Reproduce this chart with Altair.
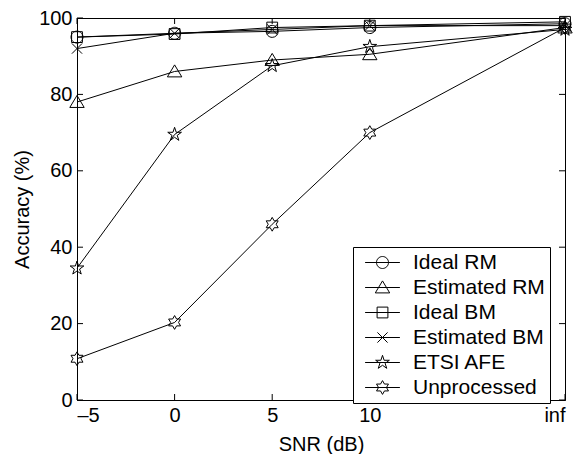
import math
import altair as alt
import pandas as pd

# ---- data ----
snr_pos = [-5, 0, 5, 10, 20]
snr_labels = ["–5", "0", "5", "10", "inf"]
series = ["Ideal RM", "Estimated RM", "Ideal BM", "Estimated BM", "ETSI AFE", "Unprocessed"]
ideal_rm = [95.0, 96.0, 96.5, 97.5, 98.5]
estimated_rm = [78.0, 86.0, 89.0, 90.5, 97.5]
ideal_bm = [95.0, 95.8, 97.5, 98.0, 99.0]
estimated_bm = [92.0, 96.0, 97.0, 98.0, 98.0]
etsi_afe = [34.5, 69.5, 87.5, 92.5, 97.0]
unprocessed = [10.8, 20.3, 46.0, 70.0, 97.5]
y_ticks = [0, 20, 40, 60, 80, 100]

all_vals = [ideal_rm, estimated_rm, ideal_bm, estimated_bm, etsi_afe, unprocessed]
rows = []
for name, vals in zip(series, all_vals):
    for p, lab, v in zip(snr_pos, snr_labels, vals):
        rows.append({"series": name, "snr": p, "label": lab, "acc": v})
df = pd.DataFrame(rows)

# ---- marker shapes (unit paths) ----
def star(n, outer, inner):
    pts = []
    for k in range(2 * n):
        r = outer if k % 2 == 0 else inner
        a = math.pi * k / n - math.pi / 2
        pts.append(f"{r * math.cos(a):.3f},{r * math.sin(a):.3f}")
    return "M" + "L".join(pts) + "Z"

circle = "M1,0A1,1,0,1,1,-1,0A1,1,0,1,1,1,0Z"
triangle = "M0,-1.1L1.2,0.9L-1.2,0.9Z"
square = "M-0.9,-0.9L0.9,-0.9L0.9,0.9L-0.9,0.9Z"
xmark = "M-0.85,-0.85L0.85,0.85M-0.85,0.85L0.85,-0.85"
pentagram = star(5, 1.2, 0.46)
hexagram = star(6, 1.15, 0.66)
shapes = [circle, triangle, square, xmark, pentagram, hexagram]
seg = "M-2.9,0L2.9,0"
legend_shapes = [seg + s for s in shapes]

W, H = 488, 382
FONT = "Liberation Sans"
FS = 20

x_scale = alt.Scale(domain=[-5, 20], nice=False, zero=False)
y_scale = alt.Scale(domain=[0, 100], nice=False, zero=False)
label_map = " : ".join(f"datum.value == {p} ? '{l}'" for p, l in zip(snr_pos, snr_labels)) + " : ''"
x_axis = alt.Axis(title="SNR (dB)", values=snr_pos, labelExpr=label_map)
y_axis = alt.Axis(title="Accuracy (%)", values=y_ticks)

base = alt.Chart(df)

lines = base.mark_line(color="black", strokeWidth=1).encode(
    x=alt.X("snr:Q", scale=x_scale, axis=x_axis),
    y=alt.Y("acc:Q", scale=y_scale, axis=y_axis),
    detail="series:N",
)

points = base.mark_point(filled=False, color="black", strokeWidth=1, size=144, opacity=1).encode(
    x=alt.X("snr:Q", scale=x_scale, axis=x_axis),
    y=alt.Y("acc:Q", scale=y_scale, axis=y_axis),
    shape=alt.Shape("series:N", scale=alt.Scale(domain=series, range=shapes), legend=None),
)

legend_layer = base.transform_filter("false").mark_point(
    filled=False, color="black", strokeWidth=1, size=144, opacity=1
).encode(
    x=alt.X("snr:Q", scale=x_scale, axis=x_axis),
    y=alt.Y("acc:Q", scale=y_scale, axis=y_axis),
    shape=alt.Shape(
        "series:N",
        scale=alt.Scale(domain=series, range=legend_shapes),
        legend=alt.Legend(
            title=None, orient="none", legendX=276, legendY=229,
            strokeColor="black", fillColor="white", padding=5,
            symbolSize=144, symbolOffset=14, labelOffset=20, rowPadding=3,
            labelFont=FONT, labelFontSize=21, labelColor="black",
            symbolStrokeColor="black", symbolStrokeWidth=1, symbolOpacity=1,
        ),
    ),
)

tick_x = pd.DataFrame({"snr": snr_pos})
tick_y = pd.DataFrame({"acc": y_ticks})
TL = 6
bottom_ticks = alt.Chart(tick_x).mark_rule(color="black", strokeWidth=1).encode(
    x=alt.X("snr:Q", scale=x_scale, axis=x_axis), y=alt.value(H), y2=alt.value(H - TL))
top_ticks = alt.Chart(tick_x).mark_rule(color="black", strokeWidth=1).encode(
    x=alt.X("snr:Q", scale=x_scale, axis=x_axis), y=alt.value(0), y2=alt.value(TL))
left_ticks = alt.Chart(tick_y).mark_rule(color="black", strokeWidth=1).encode(
    y=alt.Y("acc:Q", scale=y_scale, axis=y_axis), x=alt.value(0), x2=alt.value(TL))
right_ticks = alt.Chart(tick_y).mark_rule(color="black", strokeWidth=1).encode(
    y=alt.Y("acc:Q", scale=y_scale, axis=y_axis), x=alt.value(W - TL), x2=alt.value(W))

chart = alt.layer(
    lines, points, legend_layer, bottom_ticks, top_ticks, left_ticks, right_ticks
).resolve_scale(shape="independent").properties(
    width=W, height=H,
    autosize=alt.AutoSizeParams(type="none"),
    padding={"left": 69, "top": 10, "right": 13, "bottom": 54},
    background="white",
).configure_view(
    stroke="black", strokeWidth=1
).configure_axis(
    grid=False, ticks=False, domainColor="black", domainWidth=1,
    labelFont=FONT, labelFontSize=FS, labelColor="black",
    titleFont=FONT, titleFontSize=FS, titleColor="black", titleFontWeight="normal",
).configure_axisX(
    labelPadding=5, titlePadding=9,
).configure_axisY(
    labelPadding=5, titlePadding=6,
)

chart.save("out.html", embed_options={"renderer": "svg", "actions": False})
